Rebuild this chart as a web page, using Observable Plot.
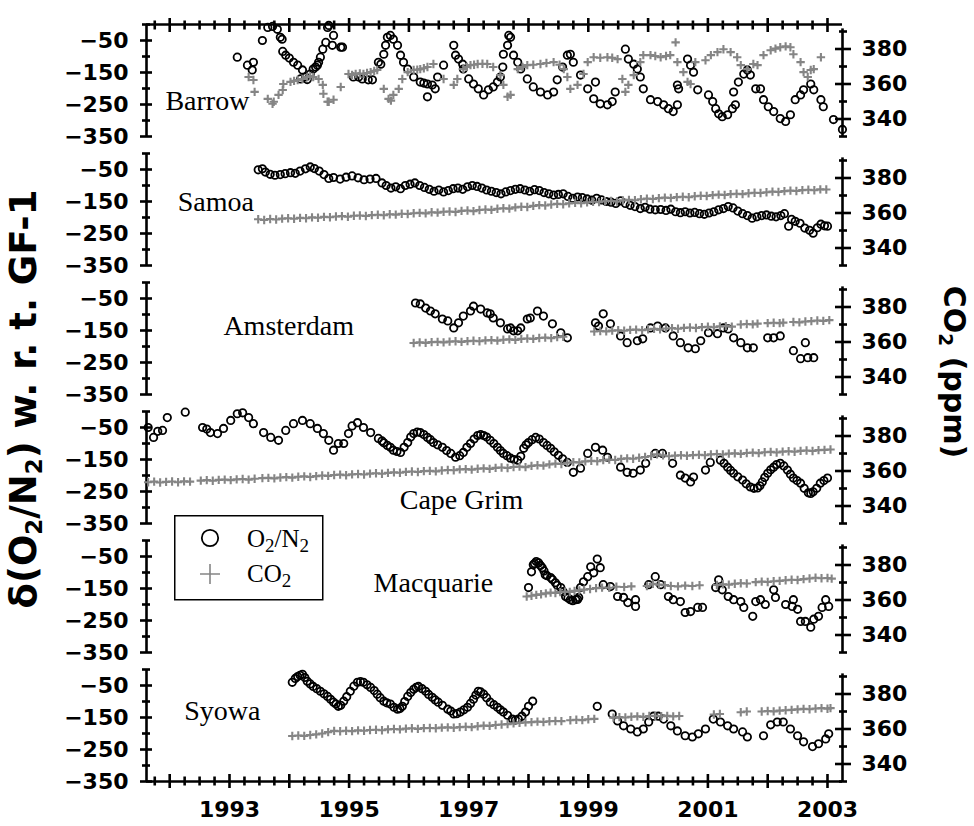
<!DOCTYPE html>
<html>
<head>
<meta charset="utf-8">
<script src="https://cdn.jsdelivr.net/npm/d3@7"></script>
<script src="https://cdn.jsdelivr.net/npm/@observablehq/plot@0.6"></script>
<style>
  html,body{margin:0;padding:0;background:#fff;}
  #chart{position:relative;width:974px;height:826px;overflow:hidden;}
  .vtitle{position:absolute;font-family:"DejaVu Sans",sans-serif;font-weight:bold;white-space:nowrap;color:#000;line-height:1;}
  .vtitle sub{font-size:0.62em;vertical-align:-0.28em;line-height:0;}
</style>
</head>
<body>
<div id="chart"></div>
<script>
// ---------------- DATA ----------------
const stations = ["Barrow", "Samoa", "Amsterdam", "Cape Grim", "Macquarie", "Syowa"];

// δ(O2/N2) per meg, [decimal year, value]
const barrowO2 = [[1993.13,-102],[1993.30,-127],[1993.38,-142],[1993.40,-118],[1993.55,-50],[1993.64,-9],[1993.72,-6],[1993.80,-15],[1993.85,-40],[1993.88,-46],[1993.89,-84],[1993.94,-96],[1994.00,-105],[1994.07,-118],[1994.14,-127],[1994.19,-170],[1994.22,-142],[1994.27,-164],[1994.30,-172],[1994.35,-155],[1994.40,-139],[1994.44,-133],[1994.47,-127],[1994.49,-118],[1994.52,-102],[1994.56,-77],[1994.61,-56],[1994.64,-9],[1994.66,-3],[1994.72,-65],[1994.74,-34],[1994.86,-71],[1994.89,-71],
[1995.07,-164],[1995.16,-164],[1995.22,-170],[1995.32,-173],[1995.39,-173],[1995.49,-118],[1995.53,-124],[1995.58,-93],[1995.61,-65],[1995.64,-40],[1995.69,-34],[1995.74,-46],[1995.81,-65],[1995.86,-96],[1995.91,-118],[1995.98,-139],[1996.08,-164],[1996.19,-180],[1996.25,-183],[1996.31,-186],[1996.31,-226],[1996.39,-189],[1996.44,-201],[1996.48,-164],[1996.58,-127],
[1996.75,-65],[1996.78,-96],[1996.83,-108],[1996.90,-124],[1996.91,-139],[1997.00,-170],[1997.08,-186],[1997.16,-201],[1997.25,-220],[1997.33,-204],[1997.41,-195],[1997.48,-180],[1997.53,-164],[1997.57,-133],[1997.58,-93],[1997.65,-65],[1997.67,-34],[1997.70,-40],[1997.75,-96],[1997.82,-118],[1997.87,-139],[1997.98,-170],[1998.08,-195],[1998.20,-211],[1998.32,-220],[1998.42,-211],[1998.48,-173],[1998.57,-133],[1998.65,-96],[1998.70,-93],[1998.75,-118],[1998.87,-158],[1998.99,-201],[1999.09,-232],[1999.12,-180],[1999.20,-248],[1999.32,-251],[1999.40,-241],[1999.45,-211],
[1999.62,-77],[1999.67,-108],[1999.76,-124],[1999.82,-139],[1999.87,-164],[1999.92,-201],[2000.04,-235],[2000.16,-241],[2000.26,-251],[2000.34,-263],[2000.42,-272],[2000.49,-251],[2000.51,-201],[2000.49,-189],[2000.66,-108],[2000.71,-127],[2000.76,-149],[2000.83,-204],
[2001.01,-220],[2001.08,-241],[2001.13,-263],[2001.18,-279],[2001.24,-288],[2001.33,-282],[2001.41,-263],[2001.43,-211],[2001.46,-251],[2001.51,-180],[2001.60,-155],[2001.66,-142],[2001.71,-158],[2001.80,-201],[2001.88,-201],[2001.93,-235],[2002.01,-257],[2002.10,-272],[2002.21,-294],[2002.30,-303],[2002.38,-282],[2002.46,-235],[2002.55,-220],[2002.60,-204],[2002.72,-186],[2002.77,-204],[2002.89,-235],[2002.93,-257],[2003.10,-297],[2003.25,-328]];

const samoaO2 = [[1993.48,-51],[1993.55,-48],[1993.60,-58],[1993.68,-65],[1993.76,-68],[1993.85,-66],[1993.93,-63],[1994.02,-60],[1994.10,-62],[1994.18,-55],[1994.27,-48],[1994.35,-42],[1994.42,-47],[1994.50,-55],[1994.58,-66],[1994.66,-78],[1994.74,-75],[1994.85,-80],[1994.95,-74],[1995.05,-70],[1995.15,-76],[1995.25,-82],[1995.35,-80],[1995.45,-78],[1995.55,-92],[1995.62,-100],[1995.70,-108],[1995.78,-104],[1995.86,-110],[1995.94,-100],[1996.02,-96],[1996.10,-92],[1996.18,-100],[1996.26,-106],[1996.34,-112],[1996.42,-118],[1996.50,-114],[1996.58,-120],[1996.66,-116],[1996.74,-110],[1996.82,-108],[1996.90,-112],[1996.98,-104],[1997.06,-100],[1997.14,-103],[1997.22,-108],[1997.30,-114],[1997.38,-118],[1997.46,-122],[1997.54,-126],[1997.62,-120],[1997.70,-116],[1997.78,-112],[1997.86,-110],[1997.94,-114],[1998.02,-118],[1998.10,-113],[1998.18,-116],[1998.26,-122],[1998.34,-126],[1998.42,-130],[1998.50,-128],[1998.58,-126],[1998.66,-134],[1998.74,-140],[1998.82,-136],[1998.90,-138],[1998.98,-142],[1999.06,-146],[1999.14,-140],[1999.22,-145],[1999.30,-150],[1999.38,-152],[1999.46,-156],[1999.54,-148],[1999.62,-156],[1999.70,-162],[1999.78,-166],[1999.87,-172],[1999.95,-168],[2000.03,-174],[2000.12,-176],[2000.21,-175],[2000.30,-178],[2000.38,-174],[2000.46,-182],[2000.54,-185],[2000.62,-182],[2000.70,-186],[2000.78,-184],[2000.86,-188],[2000.94,-190],[2001.02,-186],[2001.10,-182],[2001.18,-176],[2001.26,-172],[2001.34,-166],[2001.42,-170],[2001.50,-180],[2001.58,-188],[2001.66,-194],[2001.74,-202],[2001.82,-198],[2001.90,-194],[2001.98,-192],[2002.06,-196],[2002.14,-198],[2002.22,-194],[2002.28,-188],[2002.35,-227],[2002.40,-206],[2002.46,-212],[2002.54,-218],[2002.62,-233],[2002.70,-240],[2002.76,-249],[2002.83,-232],[2002.89,-221],[2002.95,-226],[2003.00,-227]];

const amsterdamO2 = [[1996.11,-64],[1996.19,-67],[1996.28,-80],[1996.36,-89],[1996.44,-98],[1996.56,-114],[1996.65,-120],[1996.75,-142],[1996.83,-126],[1996.91,-105],[1997.03,-89],[1997.08,-74],[1997.20,-83],[1997.31,-95],[1997.36,-98],[1997.41,-111],[1997.53,-126],[1997.65,-145],[1997.70,-142],[1997.75,-151],[1997.82,-151],[1997.87,-142],[1997.98,-114],[1998.03,-111],[1998.15,-89],[1998.25,-105],[1998.40,-129],[1998.54,-157],[1998.65,-173],
[1999.12,-126],[1999.17,-136],[1999.25,-98],[1999.37,-129],[1999.54,-167],[1999.65,-188],[1999.82,-182],[1999.91,-176],[2000.04,-142],[2000.16,-136],[2000.29,-142],[2000.42,-167],[2000.54,-188],[2000.67,-204],[2000.79,-207],[2000.88,-182],[2001.01,-157],[2001.16,-160],[2001.26,-142],[2001.34,-145],[2001.43,-173],[2001.55,-188],[2001.66,-204],[2001.76,-204],[2002.00,-173],[2002.10,-173],[2002.21,-167],[2002.43,-213],[2002.55,-238],[2002.63,-188],[2002.67,-235],[2002.77,-235]];

const capeGrimO2 = [[1991.64,-50],[1991.73,-81],[1991.80,-62],[1991.88,-59],[1991.96,-19],[1992.26,-2],[1992.55,-50],[1992.62,-55],[1992.68,-66],[1992.80,-69],[1992.90,-53],[1993.02,-28],[1993.13,-7],[1993.22,-4],[1993.32,-19],[1993.40,-38],[1993.57,-66],[1993.69,-81],[1993.82,-90],[1993.94,-59],[1994.07,-38],[1994.22,-28],[1994.35,-38],[1994.47,-53],[1994.57,-69],[1994.66,-90],[1994.74,-121],[1994.82,-100],[1994.91,-100],[1994.99,-69],[1995.05,-45],[1995.14,-35],[1995.24,-50],[1995.36,-66],[1995.49,-84],[1995.55,-92],[1995.58,-98],[1995.64,-106],[1995.69,-112],[1995.74,-121],[1995.80,-125],[1995.86,-128],[1995.92,-112],[1995.98,-97],[1996.03,-80],[1996.08,-69],[1996.14,-64],[1996.19,-66],[1996.25,-72],[1996.31,-81],[1996.36,-88],[1996.41,-97],[1996.48,-104],[1996.56,-112],[1996.63,-122],[1996.70,-131],[1996.78,-143],[1996.85,-138],[1996.91,-128],[1996.97,-112],[1997.03,-100],[1997.09,-86],[1997.15,-75],[1997.20,-72],[1997.25,-75],[1997.30,-80],[1997.36,-90],[1997.42,-100],[1997.48,-112],[1997.53,-122],[1997.58,-131],[1997.64,-138],[1997.70,-146],[1997.76,-150],[1997.82,-152],[1997.87,-140],[1997.92,-115],[1997.96,-104],[1998.00,-97],[1998.06,-88],[1998.12,-81],[1998.18,-86],[1998.25,-97],[1998.31,-106],[1998.37,-115],[1998.43,-126],[1998.50,-137],[1998.57,-148],[1998.65,-159],[1998.75,-190],[1998.87,-177],[1998.99,-131],[1999.12,-112],[1999.24,-121],[1999.32,-143],[1999.54,-174],[1999.65,-190],[1999.75,-193],[1999.87,-183],[1999.96,-162],[2000.12,-131],[2000.24,-131],[2000.41,-162],[2000.54,-199],[2000.62,-208],[2000.71,-220],[2000.76,-205],[2000.96,-183],[2001.04,-159],[2001.21,-152],[2001.27,-162],[2001.33,-174],[2001.38,-184],[2001.43,-193],[2001.50,-204],[2001.58,-214],[2001.64,-226],[2001.71,-236],[2001.77,-240],[2001.83,-239],[2001.87,-232],[2001.91,-220],[2001.95,-206],[2002.00,-193],[2002.05,-182],[2002.10,-174],[2002.15,-166],[2002.21,-162],[2002.27,-170],[2002.33,-183],[2002.38,-196],[2002.43,-208],[2002.49,-216],[2002.55,-224],[2002.61,-240],[2002.68,-254],[2002.72,-256],[2002.76,-251],[2002.82,-240],[2002.88,-224],[2002.94,-216],[2003.00,-208]];

const macquarieO2 = [[1998.00,-147],[1998.05,-98],[1998.08,-76],[1998.10,-72],[1998.13,-66],[1998.17,-70],[1998.20,-78],[1998.23,-85],[1998.26,-95],[1998.28,-107],[1998.31,-110],[1998.37,-116],[1998.40,-122],[1998.45,-132],[1998.48,-140],[1998.54,-147],[1998.58,-160],[1998.62,-175],[1998.66,-180],[1998.70,-185],[1998.74,-188],[1998.79,-185],[1998.82,-184],[1998.84,-178],[1998.87,-147],[1998.92,-129],[1998.99,-113],[1999.04,-82],[1999.09,-101],[1999.15,-58],[1999.20,-85],[1999.25,-138],[1999.37,-144],[1999.49,-175],[1999.59,-178],[1999.66,-194],[1999.79,-185],[1999.79,-206],[2000.01,-138],[2000.12,-113],[2000.21,-138],[2000.34,-175],[2000.42,-185],[2000.54,-191],[2000.62,-225],[2000.71,-222],[2000.83,-209],[2000.91,-209],[2001.13,-147],[2001.18,-123],[2001.24,-154],[2001.34,-175],[2001.43,-185],[2001.55,-191],[2001.60,-209],[2001.75,-237],[2001.80,-191],[2001.88,-185],[2001.96,-200],[2002.10,-154],[2002.13,-178],[2002.30,-200],[2002.41,-206],[2002.43,-185],[2002.50,-215],[2002.55,-253],[2002.63,-253],[2002.72,-271],[2002.77,-246],[2002.85,-237],[2002.91,-209],[2002.97,-185],[2003.02,-206]];

const syowaO2 = [[1994.05,-40],[1994.10,-28],[1994.14,-22],[1994.18,-18],[1994.22,-15],[1994.26,-25],[1994.30,-37],[1994.35,-45],[1994.40,-53],[1994.46,-60],[1994.52,-68],[1994.58,-76],[1994.64,-84],[1994.69,-93],[1994.74,-102],[1994.78,-108],[1994.82,-115],[1994.86,-112],[1994.91,-99],[1994.96,-85],[1995.02,-68],[1995.08,-52],[1995.14,-40],[1995.19,-38],[1995.24,-40],[1995.30,-48],[1995.36,-56],[1995.42,-66],[1995.47,-77],[1995.52,-88],[1995.58,-99],[1995.63,-104],[1995.69,-108],[1995.75,-118],[1995.81,-124],[1995.85,-122],[1995.89,-115],[1995.93,-100],[1995.98,-84],[1996.03,-72],[1996.08,-62],[1996.12,-56],[1996.16,-53],[1996.22,-60],[1996.28,-68],[1996.33,-78],[1996.39,-87],[1996.44,-95],[1996.49,-102],[1996.56,-112],[1996.65,-124],[1996.70,-130],[1996.75,-139],[1996.80,-138],[1996.86,-133],[1996.92,-126],[1996.98,-118],[1997.03,-106],[1997.08,-93],[1997.12,-80],[1997.16,-68],[1997.20,-70],[1997.25,-77],[1997.30,-88],[1997.36,-102],[1997.42,-110],[1997.48,-118],[1997.53,-126],[1997.58,-133],[1997.65,-143],[1997.73,-155],[1997.78,-158],[1997.83,-155],[1997.89,-146],[1997.95,-133],[1998.00,-115],[1998.07,-99],
[1999.15,-115],[1999.40,-139],[1999.49,-161],[1999.59,-176],[1999.71,-186],[1999.82,-195],[1999.92,-186],[2000.01,-164],[2000.09,-146],[2000.17,-146],[2000.26,-155],[2000.38,-176],[2000.49,-192],[2000.62,-207],[2000.74,-211],[2000.84,-201],[2000.96,-186],[2001.09,-155],[2001.21,-164],[2001.33,-176],[2001.43,-186],[2001.58,-195],[2001.66,-211],[2001.93,-207],[2002.05,-173],[2002.16,-164],[2002.26,-164],[2002.38,-186],[2002.50,-207],[2002.60,-226],[2002.75,-241],[2002.85,-232],[2002.97,-217],[2003.02,-201]];

// CO2 ppm, [decimal year, value]
const barrowCO2 = [[1993.32,364.0],[1993.40,362.3],[1993.42,355.5],[1993.64,351.5],[1993.72,348.7],[1993.74,349.9],[1993.82,353.8],[1993.89,356.6],[1993.90,360.0],[1994.02,361.2],[1994.08,361.8],[1994.14,362.3],[1994.22,362.9],[1994.30,364.0],[1994.35,364.5],[1994.40,364.0],[1994.49,362.9],[1994.56,359.5],[1994.57,354.4],[1994.64,349.9],[1994.66,349.9],[1994.74,351.0],[1994.86,358.3],[1994.99,365.7],[1995.05,365.2],[1995.11,365.7],[1995.18,366.0],[1995.24,365.7],[1995.30,366.3],[1995.36,366.8],[1995.42,367.5],[1995.47,368.0],[1995.58,357.2],[1995.66,351.5],[1995.70,350.5],[1995.74,353.8],[1995.83,357.2],[1995.89,362.9],[1995.98,366.8],[1996.08,368.0],[1996.14,368.2],[1996.19,368.5],[1996.25,369.0],[1996.31,369.7],[1996.41,371.4],[1996.58,362.9],[1996.75,359.5],[1996.81,362.9],[1996.91,368.5],[1996.97,369.8],[1997.03,370.8],[1997.09,371.0],[1997.15,371.4],[1997.23,371.6],[1997.31,371.4],[1997.41,369.7],[1997.53,365.1],[1997.58,359.5],[1997.65,352.7],[1997.70,353.8],[1997.82,368.5],[1997.90,369.8],[1997.98,370.8],[1998.08,371.0],[1998.20,371.4],[1998.30,372.0],[1998.42,372.5],[1998.52,371.0],[1998.59,368.5],[1998.65,364.0],[1998.70,357.2],[1998.82,359.5],[1998.92,365.7],[1998.99,372.5],[1999.09,375.3],[1999.20,375.0],[1999.32,375.3],[1999.40,375.0],[1999.49,374.2],[1999.57,362.9],[1999.62,355.5],[1999.67,359.5],[1999.76,365.1],[1999.87,372.5],[1999.92,376.5],[2000.04,376.5],[2000.12,376.0],[2000.21,375.3],[2000.30,376.0],[2000.37,376.5],[2000.46,383.8],[2000.49,372.5],[2000.59,366.8],[2000.66,361.2],[2000.71,360.0],[2000.79,372.5],[2000.96,373.6],[2001.05,376.5],[2001.16,378.2],[2001.26,379.9],[2001.38,378.2],[2001.49,375.3],[2001.55,370.8],[2001.66,368.5],[2001.76,371.4],[2001.83,370.8],[2001.93,376.5],[2002.05,379.3],[2002.13,380.2],[2002.21,381.0],[2002.30,381.5],[2002.38,381.0],[2002.43,377.0],[2002.55,372.5],[2002.60,366.8],[2002.67,364.0],[2002.72,368.0],[2002.77,368.5],[2002.89,375.3]];

const samoaCO2 = [[1993.48,356.4],[1993.58,356.0],[1993.68,356.6],[1993.78,356.3],[1993.88,356.8],[1993.98,357.0],[1994.08,356.7],[1994.18,357.2],[1994.28,357.0],[1994.38,357.5],[1994.48,357.3],[1994.58,357.8],[1994.68,357.6],[1994.78,358.0],[1994.88,358.2],[1994.98,357.9],[1995.08,358.4],[1995.18,358.6],[1995.28,358.3],[1995.38,358.8],[1995.48,359.0],[1995.58,358.7],[1995.68,359.3],[1995.78,359.1],[1995.88,359.6],[1995.98,359.4],[1996.08,359.9],[1996.18,360.1],[1996.28,359.8],[1996.38,360.4],[1996.48,360.2],[1996.58,360.7],[1996.68,360.9],[1996.78,360.6],[1996.88,361.2],[1996.98,361.4],[1997.08,361.1],[1997.18,361.7],[1997.28,362.0],[1997.38,361.8],[1997.48,362.4],[1997.58,362.7],[1997.68,362.5],[1997.78,363.2],[1997.88,363.6],[1997.98,363.4],[1998.08,364.1],[1998.18,364.5],[1998.28,364.3],[1998.38,364.9],[1998.48,365.2],[1998.58,365.0],[1998.68,365.5],[1998.78,365.8],[1998.88,365.6],[1998.98,366.1],[1999.08,366.4],[1999.18,366.2],[1999.28,366.7],[1999.38,366.9],[1999.48,366.6],[1999.58,367.2],[1999.68,367.5],[1999.78,367.3],[1999.88,367.9],[1999.98,368.2],[2000.08,368.0],[2000.18,368.5],[2000.28,368.8],[2000.38,368.6],[2000.48,369.1],[2000.58,369.3],[2000.68,369.0],[2000.78,369.6],[2000.88,369.9],[2000.98,369.7],[2001.08,370.2],[2001.18,370.5],[2001.28,370.3],[2001.38,370.8],[2001.48,371.0],[2001.58,370.8],[2001.68,371.3],[2001.78,371.6],[2001.88,371.4],[2001.98,371.9],[2002.08,372.2],[2002.18,372.0],[2002.28,372.5],[2002.38,372.8],[2002.48,372.6],[2002.58,373.1],[2002.68,373.3],[2002.78,373.0],[2002.88,373.5],[2002.98,373.4]];

const amsterdamCO2 = [[1996.08,359.4],[1996.18,359.8],[1996.28,359.5],[1996.38,359.9],[1996.48,360.1],[1996.58,359.8],[1996.68,360.2],[1996.78,360.4],[1996.88,360.1],[1996.98,360.5],[1997.08,360.7],[1997.18,360.4],[1997.28,360.9],[1997.38,361.1],[1997.48,360.8],[1997.58,361.3],[1997.68,361.5],[1997.78,361.2],[1997.88,361.8],[1997.98,362.0],[1998.08,361.8],[1998.18,362.3],[1998.28,362.5],[1998.38,362.2],[1998.48,362.8],[1998.58,363.0],
[1999.10,366.0],[1999.20,366.3],[1999.30,366.1],[1999.40,366.5],[1999.50,366.7],[1999.60,366.4],[1999.70,366.9],[1999.80,367.1],[1999.90,366.8],[2000.00,367.3],[2000.10,367.5],[2000.20,367.2],[2000.30,367.7],[2000.40,367.9],[2000.50,367.6],[2000.60,368.1],[2000.70,368.3],[2000.80,368.0],[2000.90,368.5],[2001.00,368.7],[2001.10,368.4],[2001.20,368.9],[2001.30,369.1],[2001.40,368.8],
[2001.55,370.0],[2001.65,370.3],[2001.75,370.1],[2001.83,370.5],[2002.00,370.8],[2002.10,371.0],[2002.20,370.8],[2002.26,371.1],[2002.43,371.4],[2002.53,371.2],[2002.63,371.7],[2002.73,371.9],[2002.83,372.3],[2002.93,372.1],[2003.03,372.5]];

const capeGrimCO2 = [[1991.64,353.6],[1991.74,353.9],[1991.84,353.4],[1991.94,353.8],[1992.04,354.0],[1992.14,353.6],[1992.24,354.1],[1992.34,353.9],
[1992.52,354.5],[1992.62,354.8],[1992.72,354.4],[1992.82,354.9],[1992.92,355.1],[1993.02,354.8],[1993.12,355.2],[1993.22,355.4],[1993.32,355.1],[1993.42,355.6],
[1993.55,355.9],[1993.65,356.1],[1993.75,355.8],[1993.85,356.3],[1993.95,356.5],[1994.05,356.2],[1994.15,356.7],[1994.25,356.9],[1994.35,356.6],[1994.45,357.1],[1994.55,357.4],[1994.65,357.2],[1994.75,357.7],[1994.85,357.9],[1994.95,357.6],[1995.05,358.1],[1995.15,358.3],[1995.25,358.0],[1995.35,358.5],[1995.45,358.7],[1995.55,358.4],[1995.65,358.9],[1995.75,359.2],[1995.85,359.0],[1995.95,359.5],[1996.05,359.7],[1996.15,359.4],[1996.25,359.9],[1996.35,360.1],[1996.45,359.8],[1996.55,360.3],[1996.65,360.6],[1996.75,360.4],[1996.85,360.9],[1996.95,361.1],[1997.05,360.8],[1997.15,361.3],[1997.25,361.5],[1997.35,361.2],[1997.45,361.8],[1997.55,362.0],[1997.65,361.7],[1997.75,362.3],[1997.85,362.5],[1997.95,362.2],[1998.05,362.9],[1998.15,363.3],[1998.25,363.1],[1998.35,363.8],[1998.45,364.2],[1998.55,364.0],[1998.65,364.7],[1998.75,365.1],[1998.85,364.9],[1998.95,365.5],[1999.05,365.8],[1999.15,365.6],[1999.25,366.2],[1999.35,366.5],[1999.45,366.3],[1999.55,366.9],[1999.65,367.2],[1999.75,367.0],[1999.85,367.6],[1999.95,368.0],[2000.05,368.6],[2000.15,369.5],[2000.25,368.9],[2000.35,368.4],[2000.45,368.8],[2000.55,369.0],[2000.65,368.7],[2000.75,369.1],[2000.85,369.3],[2000.95,369.0],[2001.05,369.5],[2001.15,369.7],[2001.25,369.4],[2001.35,369.9],[2001.45,370.1],[2001.55,369.8],[2001.65,370.3],[2001.75,370.5],[2001.85,370.2],[2001.95,370.7],[2002.05,370.9],[2002.15,370.6],[2002.25,371.1],[2002.35,371.3],[2002.45,371.0],[2002.55,371.5],[2002.65,371.7],[2002.75,371.4],[2002.85,371.9],[2002.95,372.1],[2003.05,372.3]];

const macquarieCO2 = [[1997.97,362.0],[1998.05,362.4],[1998.13,362.9],[1998.21,363.3],[1998.29,363.8],[1998.37,364.2],[1998.45,364.0],[1998.53,364.5],[1998.61,364.8],[1998.69,364.6],[1998.77,365.2],[1998.85,365.5],[1998.93,365.9],[1999.03,366.3],[1999.13,366.8],[1999.23,367.1],[1999.35,367.0],[1999.47,367.6],[1999.60,367.4],[1999.72,367.8],
[1999.98,368.0],[2000.08,369.2],[2000.18,368.8],[2000.28,368.5],[2000.38,368.0],[2000.50,367.8],[2000.62,368.2],[2000.74,368.0],[2000.86,368.4],
[2001.15,368.6],[2001.25,369.0],[2001.35,368.8],[2001.45,369.3],[2001.55,369.6],[2001.65,369.4],
[2001.80,370.2],[2001.90,370.5],[2002.00,370.3],[2002.10,370.7],[2002.20,370.9],[2002.30,371.3],[2002.40,371.6],[2002.50,371.4],[2002.60,371.9],[2002.70,372.3],[2002.80,372.7],[2002.90,372.4],[2003.00,372.6],[2003.07,372.2]];

const syowaCO2 = [[1994.05,356.0],[1994.15,356.3],[1994.25,356.1],[1994.35,356.6],[1994.45,356.9],[1994.55,357.4],[1994.65,358.2],[1994.75,358.9],[1994.85,358.7],[1994.95,359.0],[1995.05,358.8],[1995.15,359.2],[1995.25,359.0],[1995.35,359.4],[1995.45,359.6],[1995.55,359.3],[1995.65,359.8],[1995.75,360.0],[1995.85,359.8],[1995.95,360.2],[1996.05,360.4],[1996.15,360.1],[1996.25,360.5],[1996.35,360.6],[1996.45,360.4],[1996.55,360.8],[1996.65,360.9],[1996.75,360.7],[1996.85,361.1],[1996.95,361.3],[1997.05,361.1],[1997.15,361.6],[1997.25,361.9],[1997.35,361.8],[1997.45,362.3],[1997.55,362.6],[1997.65,362.8],[1997.75,363.2],[1997.85,363.5],[1997.95,363.8],[1998.05,363.9],[1998.15,364.2],[1998.25,364.0],[1998.35,364.4],[1998.45,364.6],[1998.55,364.5],
[1998.70,365.0],[1998.80,365.3],[1998.90,365.1],[1999.00,365.6],[1999.10,365.8],
[1999.42,366.5],[1999.52,366.8],[1999.62,366.6],[1999.72,367.0],[1999.82,367.2],[1999.92,366.9],[2000.02,367.4],[2000.12,367.6],[2000.22,367.3],[2000.32,367.5],[2000.42,367.2],[2000.52,367.4],
[2001.10,368.3],[2001.20,368.6],[2001.55,369.6],[2001.65,370.0],
[2001.90,370.0],[2002.00,370.3],[2002.10,370.1],[2002.20,370.5],[2002.30,370.7],[2002.40,370.9],[2002.50,371.2],[2002.60,371.5],[2002.70,371.3],[2002.80,371.7],[2002.90,371.9],[2003.00,371.6],[2003.05,371.9]];

// axis tick values / labels
const o2TickLabels = [-50, -150, -250, -350];
const o2MinorTicks = [0, -100, -200, -300];
const co2TickLabels = [340, 360, 380];
const co2MinorTicks = [330, 350, 370, 390];
const yearTicks = [1992,1993,1994,1995,1996,1997,1998,1999,2000,2001,2002,2003];
const yearLabels = [1993, 1995, 1997, 1999, 2001, 2003];
const legendLabels = [["O", "2", "/N", "2"], ["CO", "2"]];

// station name anchor (in data units: year, δ)
const labelAnchor = [[1992.63,-238],[1992.77,-153],[1993.99,-136],[1996.88,-276],[1996.41,-132],[1992.88,-130]];

// ---------------- BUILD ----------------
const o2Series = [barrowO2, samoaO2, amsterdamO2, capeGrimO2, macquarieO2, syowaO2];
const co2Series = [barrowCO2, samoaCO2, amsterdamCO2, capeGrimCO2, macquarieCO2, syowaCO2];

const xDomain = [1991.612, 2003.251];
const o2Domain = [-350, 0];
const co2Domain = [330, 394];
const toLeft = c => o2Domain[0] + (c - co2Domain[0]) / (co2Domain[1] - co2Domain[0]) * (o2Domain[1] - o2Domain[0]);
const fromLeft = v => co2Domain[0] + (v - o2Domain[0]) / (o2Domain[1] - o2Domain[0]) * (co2Domain[1] - co2Domain[0]);

const o2Rows = stations.flatMap((s, i) => o2Series[i].map(([t, v]) => ({station: s, t, v})));
const co2Rows = stations.flatMap((s, i) => co2Series[i].map(([t, c]) => ({station: s, t, v: toLeft(c), c})));
const labelRows = stations.map((s, i) => ({station: s, t: labelAnchor[i][0], v: labelAnchor[i][1]}));

const quarterTicks = d3.range(0, 46).map(i => 1991.75 + i * 0.25).filter(t => !Number.isInteger(t));

const plusSymbol = {
  draw(ctx, size) {
    const r = Math.sqrt(size / Math.PI);
    ctx.moveTo(-r, 0); ctx.lineTo(r, 0);
    ctx.moveTo(0, -r); ctx.lineTo(0, r);
  }
};

const AX = 2.6; // axis stroke width
const GRAY = "#858585";

const chart = Plot.plot({
  width: 974,
  height: 826,
  marginLeft: 146,
  marginRight: 132,
  marginTop: 22,
  marginBottom: 43,
  x: {domain: xDomain},
  y: {domain: o2Domain},
  fy: {domain: stations, paddingInner: 0.128, paddingOuter: 0, axis: null},
  style: {fontFamily: "'DejaVu Sans', sans-serif", fontSize: "22px", fontWeight: "bold", background: "white", color: "black", overflow: "visible"},
  marks: [
    // frame lines
    Plot.ruleX([xDomain[0]], {y1: o2Domain[0], y2: o2Domain[1], strokeWidth: AX}),
    Plot.ruleX([xDomain[1]], {y1: toLeft(330), y2: toLeft(391.5), strokeWidth: AX}),
    Plot.ruleY([o2Domain[1]], {fy: () => stations[0], strokeWidth: AX}),
    Plot.ruleY([o2Domain[0]], {fy: () => stations[stations.length - 1], strokeWidth: AX}),
    // left axis
    Plot.axisY({ticks: o2TickLabels, tickSize: 0, tickPadding: 18, label: null}),
    Plot.axisY({ticks: o2TickLabels, tickSize: 12, dx: 6, fill: "none", label: null, strokeWidth: AX}),
    Plot.axisY({ticks: o2MinorTicks, tickSize: 8, dx: 4, fill: "none", label: null, strokeWidth: AX}),
    // right axis (CO2)
    Plot.axisY({anchor: "right", ticks: co2TickLabels.map(toLeft), tickFormat: v => `${Math.round(fromLeft(v))}`, tickSize: 0, tickPadding: 19, label: null}),
    Plot.axisY({anchor: "right", ticks: co2TickLabels.map(toLeft), tickSize: 16, dx: -8, fill: "none", label: null, strokeWidth: AX}),
    Plot.axisY({anchor: "right", ticks: co2MinorTicks.map(toLeft), tickSize: 8, dx: -4, fill: "none", label: null, strokeWidth: AX}),
    // bottom axis
    Plot.axisX({anchor: "bottom", ticks: yearLabels, tickFormat: d => `${d}`, tickSize: 0, tickPadding: 20, label: null}),
    Plot.axisX({anchor: "bottom", ticks: yearTicks, tickSize: 14, dy: -7, fill: "none", label: null, strokeWidth: AX}),
    Plot.axisX({anchor: "bottom", ticks: quarterTicks, tickSize: 9, dy: -4.5, fill: "none", label: null, strokeWidth: AX}),
    // top axis
    Plot.axisX({anchor: "top", ticks: yearTicks, tickSize: 14, dy: 7, fill: "none", label: null, strokeWidth: AX}),
    Plot.axisX({anchor: "top", ticks: quarterTicks, tickSize: 9, dy: 4.5, fill: "none", label: null, strokeWidth: AX}),
    // data
    Plot.dot(o2Rows, {x: "t", y: "v", fy: "station", r: 3.7, stroke: "black", strokeWidth: 1.8, fill: "none"}),
    Plot.dot(co2Rows, {x: "t", y: "v", fy: "station", symbol: plusSymbol, r: 4.2, stroke: GRAY, strokeWidth: 2.1, fill: "none"}),
    // station names
    Plot.text(labelRows, {x: "t", y: "v", fy: "station", text: "station", fontFamily: "'Liberation Serif', serif", fontSize: 28, fontWeight: "normal", textAnchor: "middle", lineAnchor: "middle", fill: "black"})
  ]
});

const root = document.getElementById("chart");
root.appendChild(chart);

// axis titles
const leftTitle = document.createElement("div");
leftTitle.className = "vtitle";
leftTitle.innerHTML = "δ(O<sub>2</sub>/N<sub>2</sub>) w. r. t. GF-1";
leftTitle.style.cssText = "left:23px;top:399px;font-size:37px;transform:translate(-50%,-50%) rotate(-90deg);";
root.appendChild(leftTitle);

const rightTitle = document.createElement("div");
rightTitle.className = "vtitle";
rightTitle.innerHTML = "CO<sub>2</sub> (ppm)";
rightTitle.style.cssText = "left:954px;top:372px;font-size:30px;transform:translate(-50%,-50%) rotate(90deg);";
root.appendChild(rightTitle);

// legend
const ns = "http://www.w3.org/2000/svg";
const lg = document.createElementNS(ns, "svg");
lg.setAttribute("width", 150); lg.setAttribute("height", 86);
lg.style.cssText = "position:absolute;left:174px;top:515px;";
lg.innerHTML = `
  <rect x="0.75" y="0.75" width="148" height="84" fill="white" stroke="black" stroke-width="1.5"/>
  <circle cx="36" cy="23" r="8.2" fill="none" stroke="black" stroke-width="1.8"/>
  <path d="M26,59H46M36,49V69" stroke="${GRAY}" stroke-width="1.6" fill="none"/>
  <text x="73" y="32" font-family="'Liberation Serif', serif" font-size="25">${legendLabels[0][0]}<tspan font-size="19" dy="5">${legendLabels[0][1]}</tspan><tspan dy="-5">${legendLabels[0][2]}</tspan><tspan font-size="19" dy="5">${legendLabels[0][3]}</tspan></text>
  <text x="73" y="67" font-family="'Liberation Serif', serif" font-size="25">${legendLabels[1][0]}<tspan font-size="19" dy="5">${legendLabels[1][1]}</tspan></text>`;
root.appendChild(lg);
</script>
</body>
</html>
